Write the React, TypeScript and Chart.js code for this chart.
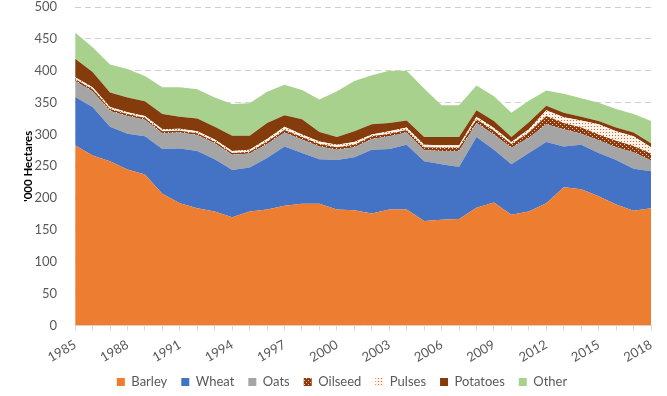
import React, { useEffect, useRef } from "react";
import { Chart, registerables } from "chart.js";

Chart.register(...registerables);

const years = [
  "1985", "1986", "1987", "1988", "1989", "1990", "1991", "1992", "1993", "1994",
  "1995", "1996", "1997", "1998", "1999", "2000", "2001", "2002", "2003", "2004",
  "2005", "2006", "2007", "2008", "2009", "2010", "2011", "2012", "2013", "2014",
  "2015", "2016", "2017", "2018",
];

const barley = [283, 267, 258, 245, 237, 207, 192, 184, 179, 170, 179, 182, 188, 191, 191, 182, 181, 176, 182, 182, 164, 166, 167, 185, 193, 174, 179, 192, 217, 214, 203, 190, 180, 184];
const wheat = [76, 76, 54, 56, 60, 70, 86, 90, 82, 74, 69, 81, 93, 80, 70, 78, 83, 100, 95, 102, 94, 87, 82, 111, 83, 79, 92, 96, 64, 70, 68, 70, 66, 58];
const oats = [25, 25, 25, 28, 26, 25, 25, 25, 25, 24, 22, 22, 22, 21, 20, 16, 16, 17, 20, 19, 17, 21, 25, 22, 24, 26, 24, 28, 27, 17, 20, 20, 26, 17];
const oilseed = [3, 3, 3, 3, 3, 3, 3, 3, 3, 3, 3, 4, 4, 4, 4, 4, 4, 4, 4, 4, 5, 5, 5, 6, 6, 6, 8, 13, 10, 10, 9, 10, 10, 11];
const pulses = [3, 3, 3, 3, 3, 3, 3, 3, 3, 3, 3, 4, 5, 4, 4, 4, 4, 3, 4, 4, 4, 4, 4, 4, 4, 3, 5, 9, 9, 11, 16, 15, 15, 10];
const potatoes = [29, 24, 23, 23, 23, 24, 19, 20, 20, 24, 22, 25, 18, 24, 15, 12, 17, 16, 13, 11, 12, 13, 13, 10, 11, 8, 11, 7, 7, 6, 5, 6, 6, 6];
const other = [41, 39, 44, 45, 40, 42, 46, 46, 46, 50, 51, 49, 48, 46, 51, 72, 79, 77, 82, 78, 76, 50, 50, 39, 39, 38, 34, 24, 30, 29, 29, 29, 29, 35];

const yTicks = [0, 50, 100, 150, 200, 250, 300, 350, 400, 450, 500];

function makePattern(base: string, dot: string, size: number, checker: boolean) {
  const c = document.createElement("canvas");
  c.width = size;
  c.height = size;
  const g = c.getContext("2d")!;
  g.fillStyle = base;
  g.fillRect(0, 0, size, size);
  g.fillStyle = dot;
  g.fillRect(0, 0, 1, 1);
  if (checker) g.fillRect(size / 2, size / 2, 1, 1);
  const ctx = document.createElement("canvas").getContext("2d")!;
  return ctx.createPattern(c, "repeat") as CanvasPattern;
}

const LEGEND_PAD = 14;
const LEGEND_FONT = 13;

const legendShift = {
  id: "legendShift",
  afterLayout(chart: any) {
    const lg = chart.legend;
    if (lg) {
      const dx = 5;
      const dy = 382 - (lg.top + LEGEND_PAD + LEGEND_FONT / 2);
      lg.left += dx;
      lg.right += dx;
      lg.top += dy;
      lg.bottom += dy;
    }
  },
};

export default function App() {
  const ref = useRef<HTMLCanvasElement>(null);

  useEffect(() => {
    if (!ref.current) return;
    const oilPat = makePattern("#8A3B10", "#F8CBAD", 4, true);
    const pulPat = makePattern("#FDF1E8", "#CC6A30", 3, false);
    const font = "Lato, 'Open Sans', sans-serif";
    const mk = (label: string, data: number[], bg: any, fill: any) => ({
      label,
      data,
      backgroundColor: bg,
      borderWidth: 0,
      pointRadius: 0,
      fill,
      tension: 0,
    });
    const chart = new Chart(ref.current, {
      type: "line",
      data: {
        labels: years,
        datasets: [
          mk("Barley", barley, "#ED7D31", "origin"),
          mk("Wheat", wheat, "#4472C4", "-1"),
          mk("Oats", oats, "#A5A5A5", "-1"),
          mk("Oilseed", oilseed, oilPat, "-1"),
          mk("Pulses", pulses, pulPat, "-1"),
          mk("Potatoes", potatoes, "#843C0C", "-1"),
          mk("Other", other, "#A9D18E", "-1"),
        ],
      },
      plugins: [legendShift],
      options: {
        responsive: false,
        animation: false,
        layout: { padding: { left: 23, right: 16, top: 0, bottom: -13 } },
        plugins: {
          legend: {
            position: "bottom",
            labels: {
              boxWidth: 8,
              boxHeight: 8,
              padding: LEGEND_PAD,
              color: "#595959",
              font: { family: font, size: LEGEND_FONT },
            },
          },
          tooltip: { enabled: false },
        },
        scales: {
          x: {
            offset: false,
            grid: {
              display: true,
              drawOnChartArea: false,
              drawTicks: true,
              tickLength: 5,
              color: "#D9D9D9",
            },
            border: { display: true, color: "#D9D9D9" },
            ticks: {
              autoSkip: false,
              maxRotation: 30,
              minRotation: 30,
              padding: 6.5,
              color: "#595959",
              font: { family: font, size: 13 },
              callback: (v: any, i: number) => (i % 3 === 0 ? years[i] : ""),
            },
          },
          y: {
            stacked: true,
            min: 0,
            max: 500,
            afterBuildTicks: (axis: any) => {
              axis.ticks = yTicks.map((v) => ({ value: v }));
            },
            grid: {
              color: "#D0D0D0",
              drawTicks: true,
              tickLength: 18,
              tickColor: "rgba(0,0,0,0)",
            },
            border: { display: false, dash: [6, 4] },
            ticks: {
              color: "#595959",
              padding: 0,
              font: { family: font, size: 13, lineHeight: 1.1 },
            },
            title: {
              display: true,
              text: "'000 Hectares",
              color: "#000000",
              padding: { top: 0, bottom: 0 },
              font: { family: font, size: 11.5, weight: "bold", lineHeight: 1 },
            },
          },
        },
      },
    });
    return () => chart.destroy();
  }, []);

  return (
    <div style={{ position: "fixed", left: 0, top: 0, width: 667, height: 396, background: "#fff" }}>
      <canvas ref={ref} width={667} height={396} />
    </div>
  );
}
